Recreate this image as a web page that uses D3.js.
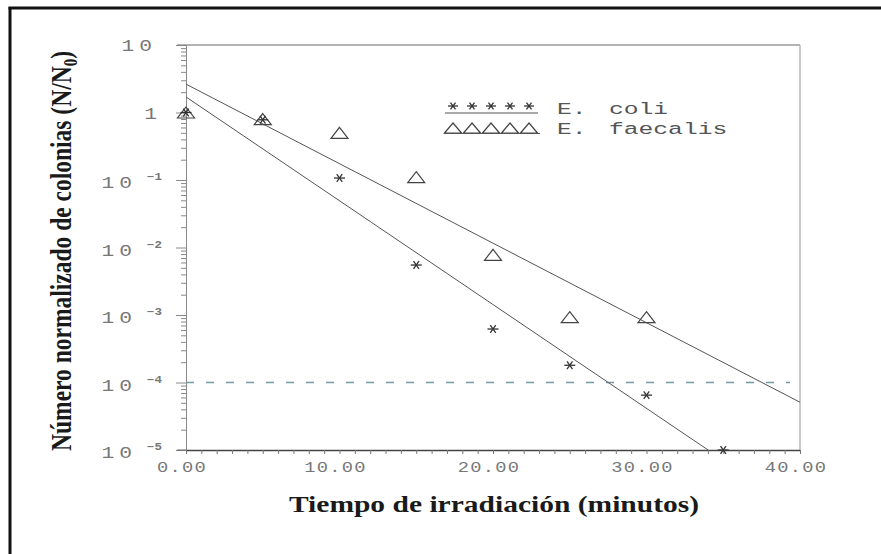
<!DOCTYPE html>
<html>
<head>
<meta charset="utf-8">
<script src="https://cdn.jsdelivr.net/npm/d3@7"></script>
<style>
  html, body { margin: 0; padding: 0; background: #fff; }
  svg { display: block; }
</style>
</head>
<body>
<svg id="chart" width="881" height="554"></svg>
<script>
// Survival of bacteria under irradiation (normalised colony counts, log scale)
const coliTimes = [0, 5, 10, 15, 20, 25, 30, 35];
const coliValues = [1.0, 0.78, 0.107, 0.0055, 6.2e-4, 1.8e-4, 6.5e-5, 1.0e-5];

const faecalisTimes = [0, 5, 10, 15, 20, 25, 30];
const faecalisValues = [1.0, 0.8, 0.5, 0.11, 0.0078, 9.3e-4, 9.3e-4];

// fitted exponential decay lines, given by their end values
const fitTimes = [0, 40];
const fitColi = [1.7, 1.2e-6];
const fitFaecalis = [2.63, 5.1e-5];

const detectionLimit = 1e-4;

const xTickValues = [0, 10, 20, 30, 40];
const xTickLabels = ["0.00", "10.00", "20.00", "30.00", "40.00"];
const yDecades = [1, 0, -1, -2, -3, -4, -5];

const legendNames = ["E.", "E."];
const legendSpecies = ["coli", "faecalis"];

const xTitle = "Tiempo de irradiación (minutos)";
const yTitleMain = "Número normalizado de colonias (N/N";
const yTitleSub = "0";

// ---- layout ----
const svg = d3.select("#chart");
const plotLeft = 186, plotRight = 800, plotTop = 45, plotBottom = 450;
const stretch = 1.25;   // horizontal stretch of all type
const monoFont = "'Liberation Mono', 'Courier New', monospace";
const serifFont = "'Liberation Serif', 'Times New Roman', serif";

const x = d3.scaleLinear().domain([0, 40]).range([plotLeft, plotRight]);
const y = d3.scaleLog().domain([1e-5, 10]).range([plotBottom, plotTop]);

// page frame
svg.append("line").attr("x1", 10).attr("x2", 10).attr("y1", 7).attr("y2", 554)
  .attr("stroke", "#111").attr("stroke-width", 3);
svg.append("line").attr("x1", 8.5).attr("x2", 881).attr("y1", 8).attr("y2", 8)
  .attr("stroke", "#111").attr("stroke-width", 3);

// plot box
svg.append("line").attr("x1", plotLeft - 9).attr("x2", plotRight).attr("y1", plotTop).attr("y2", plotTop)
  .attr("stroke", "#666").attr("stroke-width", 1);
svg.append("line").attr("x1", plotRight).attr("x2", plotRight).attr("y1", plotTop).attr("y2", plotBottom)
  .attr("stroke", "#aaa").attr("stroke-width", 1.2);

// y axis: minor ticks then decades
const minorY = [];
for (let e = -5; e < 1; e++) for (let m = 2; m <= 9; m++) minorY.push(m * Math.pow(10, e));
const majorY = yDecades.map(e => Math.pow(10, e));

const yMinorAxis = svg.append("g").attr("transform", `translate(${plotLeft},0)`)
  .call(d3.axisLeft(y).tickValues(minorY).tickSize(5).tickSizeOuter(0).tickFormat(""));
const yMajorAxis = svg.append("g").attr("transform", `translate(${plotLeft},0)`)
  .call(d3.axisLeft(y).tickValues(majorY).tickSize(10).tickSizeOuter(0).tickFormat(""));
[yMinorAxis, yMajorAxis].forEach(g => {
  g.select(".domain").attr("stroke", "#888");
  g.selectAll(".tick line").attr("stroke", "#888");
});

// x axis: ticks every minute
const xMinorAxis = svg.append("g").attr("transform", `translate(0,${plotBottom})`)
  .call(d3.axisBottom(x).tickValues(d3.range(0, 41, 1)).tickSize(4).tickSizeOuter(0).tickFormat(""));
xMinorAxis.select(".domain").attr("stroke", "#444").attr("stroke-width", 1.3);
xMinorAxis.selectAll(".tick line").attr("stroke", "#777");
svg.append("line").attr("x1", plotLeft - 9).attr("x2", plotLeft).attr("y1", plotBottom).attr("y2", plotBottom)
  .attr("stroke", "#666");

// x tick labels
xTickValues.forEach((v, i) => {
  svg.append("g").attr("transform", `translate(${x(v) - 4},472) scale(${stretch},1)`)
    .append("text").attr("text-anchor", "middle")
    .attr("font-family", monoFont).attr("font-size", 15).attr("letter-spacing", 1)
    .attr("fill", "#777").text(xTickLabels[i]);
});

// y tick labels: 10, 1, then 10 with negative exponents
yDecades.forEach(e => {
  const yy = y(Math.pow(10, e));
  if (e >= 0) {
    svg.append("g").attr("transform", `translate(157,${yy + 6}) scale(${stretch},1)`)
      .append("text").attr("text-anchor", "end")
      .attr("font-family", monoFont).attr("font-size", 17).attr("letter-spacing", e === 1 ? 4 : 0)
      .attr("fill", "#777").text(e === 1 ? "10" : "1");
  } else {
    svg.append("g").attr("transform", `translate(137,${yy + 8}) scale(${stretch},1)`)
      .append("text").attr("text-anchor", "end")
      .attr("font-family", monoFont).attr("font-size", 17).attr("letter-spacing", 4)
      .attr("fill", "#777").text("10");
    svg.append("g").attr("transform", `translate(147,${yy}) scale(${stretch},1)`)
      .append("text").attr("text-anchor", "start")
      .attr("font-family", monoFont).attr("font-size", 10).attr("font-weight", "bold")
      .attr("fill", "#777").text("\u2212" + (-e));
  }
});

// detection limit
svg.append("line")
  .attr("x1", x(0)).attr("x2", 790)
  .attr("y1", y(detectionLimit)).attr("y2", y(detectionLimit))
  .attr("stroke", "#7599a3").attr("stroke-width", 1.3).attr("stroke-dasharray", "8,12");

// fitted lines (clipped to the plot box)
svg.append("clipPath").attr("id", "plotClip").append("rect")
  .attr("x", plotLeft).attr("y", plotTop).attr("width", plotRight - plotLeft).attr("height", plotBottom - plotTop);
const line = d3.line().x(d => x(d[0])).y(d => y(d[1]));
[fitColi, fitFaecalis].forEach(fit => {
  svg.append("path").attr("clip-path", "url(#plotClip)")
    .attr("d", line(fitTimes.map((t, i) => [t, fit[i]])))
    .attr("fill", "none").attr("stroke", "#555").attr("stroke-width", 1);
});

// markers
function asterisk(sel, size) {
  const r = size / 2;
  const a = Math.PI / 3;
  sel.append("line").attr("x1", -r).attr("x2", r).attr("y1", 0).attr("y2", 0);
  sel.append("line").attr("x1", -r * Math.cos(a)).attr("x2", r * Math.cos(a))
    .attr("y1", -r * Math.sin(a) * 0.8).attr("y2", r * Math.sin(a) * 0.8);
  sel.append("line").attr("x1", -r * Math.cos(a)).attr("x2", r * Math.cos(a))
    .attr("y1", r * Math.sin(a) * 0.8).attr("y2", -r * Math.sin(a) * 0.8);
  sel.attr("stroke", "#333").attr("stroke-width", 1.3);
}
function triangle(sel, w, h) {
  sel.append("path")
    .attr("d", `M0,${-h / 2}L${w / 2},${h / 2}L${-w / 2},${h / 2}Z`)
    .attr("fill", "none").attr("stroke", "#444").attr("stroke-width", 1.2);
}

faecalisTimes.forEach((t, i) => {
  svg.append("g").attr("transform", `translate(${x(t)},${y(faecalisValues[i])})`)
    .call(triangle, 17, 11);
});
coliTimes.forEach((t, i) => {
  svg.append("g").attr("transform", `translate(${x(t)},${y(coliValues[i])})`)
    .call(asterisk, 11);
});

// legend
const legendX = d3.range(5).map(k => 453 + k * 19);
const legendRows = [106, 128];
legendX.forEach(cx => {
  svg.append("g").attr("transform", `translate(${cx},${legendRows[0]})`).call(asterisk, 10);
  svg.append("g").attr("transform", `translate(${cx},${legendRows[1]})`).call(triangle, 17, 10);
});
svg.append("line").attr("x1", 445).attr("x2", 538).attr("y1", 113).attr("y2", 113)
  .attr("stroke", "#555").attr("stroke-width", 1);
svg.append("line").attr("x1", 444).attr("x2", 540).attr("y1", 133.5).attr("y2", 133.5)
  .attr("stroke", "#555").attr("stroke-width", 1);
[114, 134].forEach((base, i) => {
  svg.append("g").attr("transform", `translate(557,${base}) scale(1.45,1)`)
    .append("text").attr("font-family", monoFont).attr("font-size", 17)
    .attr("fill", "#555").text(legendNames[i]);
  svg.append("g").attr("transform", `translate(609,${base}) scale(1.45,1)`)
    .append("text").attr("font-family", monoFont).attr("font-size", 17)
    .attr("fill", "#555").text(legendSpecies[i]);
});

// axis titles
svg.append("g").attr("transform", `translate(494,512) scale(1.23,1)`)
  .append("text").attr("text-anchor", "middle")
  .attr("font-family", serifFont).attr("font-weight", "bold").attr("font-size", 24)
  .attr("fill", "#1a1a1a").text(xTitle);

const yTitle = svg.append("g").attr("transform", `translate(71,251) scale(${stretch},1) rotate(-90)`)
  .append("text").attr("text-anchor", "middle")
  .attr("font-family", serifFont).attr("font-weight", "bold").attr("font-size", 23.5)
  .attr("fill", "#1a1a1a");
yTitle.append("tspan").text(yTitleMain);
yTitle.append("tspan").attr("font-size", 15).attr("dy", 5).text(yTitleSub);
yTitle.append("tspan").attr("dy", -5).text(")");
</script>
</body>
</html>
